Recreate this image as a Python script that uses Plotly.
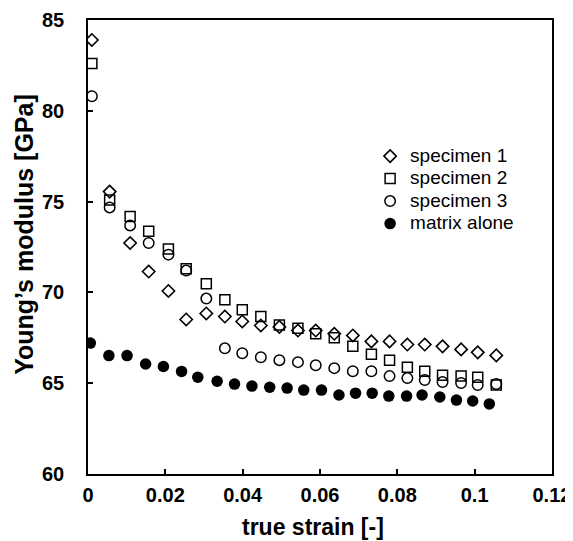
import plotly.graph_objects as go

# ---- data ----
strain_spec = [0.0010, 0.0056, 0.0109, 0.0157, 0.0208, 0.0254, 0.0306, 0.0354, 0.0399, 0.0447,
               0.0495, 0.0543, 0.0589, 0.0637, 0.0685, 0.0733, 0.0780, 0.0826, 0.0871, 0.0917,
               0.0965, 0.1008, 0.1056]
specimen1 = [83.9, 75.55, 72.72, 71.15, 70.08, 68.51, 68.84, 68.67, 68.40, 68.18,
             68.10, 67.90, 67.90, 67.72, 67.63, 67.30, 67.30, 67.13, 67.13, 67.03,
             66.86, 66.70, 66.53]
specimen2 = [82.6, 75.09, 74.18, 73.37, 72.39, 71.30, 70.48, 69.60, 69.05, 68.67,
             68.20, 68.02, 67.72, 67.50, 67.03, 66.59, 66.26, 65.88, 65.66, 65.44,
             65.39, 65.33, 64.90]
specimen3 = [80.8, 74.68, 73.69, 72.72, 72.08, 71.20, 69.66, 66.92, 66.65, 66.43,
             66.27, 66.16, 65.99, 65.83, 65.66, 65.66, 65.39, 65.28, 65.17, 65.06,
             65.01, 64.90, 64.95]

strain_matrix = [0.0006, 0.0054, 0.0101, 0.0149, 0.0195, 0.0242, 0.0284, 0.0334, 0.0379, 0.0424,
                 0.0470, 0.0515, 0.0558, 0.0604, 0.0649, 0.0692, 0.0735, 0.0778, 0.0824, 0.0864,
                 0.0910, 0.0953, 0.0995, 0.1038]
matrix_alone = [67.21, 66.52, 66.52, 66.06, 65.92, 65.65, 65.33, 65.11, 64.95, 64.84,
                64.78, 64.73, 64.62, 64.62, 64.35, 64.45, 64.45, 64.29, 64.29, 64.35,
                64.24, 64.07, 64.02, 63.86]

series_names = ["specimen 1", "specimen 2", "specimen 3", "matrix alone"]
x_ticks = [0, 0.02, 0.04, 0.06, 0.08, 0.1, 0.12]
x_tick_text = ["0", "0.02", "0.04", "0.06", "0.08", "0.1", "0.12"]
y_ticks = [60, 65, 70, 75, 80, 85]
x_title = "true strain [-]"
y_title = "Young’s modulus [GPa]"

FONT = "Liberation Sans, Arial, Helvetica, sans-serif"
LEG_TXT = '<span style="font-size:19px">{}</span>'

fig = go.Figure()
fig.add_trace(go.Scatter(x=strain_spec, y=specimen1, mode="markers", name=LEG_TXT.format(series_names[0]),
                         marker=dict(symbol="diamond-open", size=9.5, color="black",
                                     line=dict(width=1.6, color="black"))))
fig.add_trace(go.Scatter(x=strain_spec, y=specimen2, mode="markers", name=LEG_TXT.format(series_names[1]),
                         marker=dict(symbol="square-open", size=10, color="black",
                                     line=dict(width=1.5, color="black"))))
fig.add_trace(go.Scatter(x=strain_spec, y=specimen3, mode="markers", name=LEG_TXT.format(series_names[2]),
                         marker=dict(symbol="circle-open", size=10.5, color="black",
                                     line=dict(width=1.5, color="black"))))
fig.add_trace(go.Scatter(x=strain_matrix, y=matrix_alone, mode="markers", name=LEG_TXT.format(series_names[3]),
                         marker=dict(symbol="circle", size=11.5, color="black",
                                     line=dict(width=0))))

axis_common = dict(
    showgrid=False, zeroline=False, showline=True, linecolor="black", linewidth=1.5,
    mirror=True, ticks="inside", ticklen=5, tickwidth=1.5, tickcolor="black",
    tickfont=dict(family=FONT, size=20, color="black", weight="bold"),
    automargin=False, ticklabeloverflow="allow",
)

fig.update_xaxes(range=[0, 0.12001], tickvals=x_ticks, ticktext=x_tick_text,
                 ticklabelstandoff=2, **axis_common)
fig.update_yaxes(range=[60, 85], tickvals=y_ticks,
                 ticklabelstandoff=18, **axis_common)

fig.add_annotation(text=x_title, xref="paper", yref="paper", x=0.485, y=-0.1167,
                   xanchor="center", yanchor="middle", showarrow=False,
                   font=dict(family=FONT, size=23, color="black", weight="bold"))
fig.add_annotation(text=y_title, xref="paper", yref="paper", x=-0.138, y=0.529,
                   xanchor="center", yanchor="middle", textangle=-90, showarrow=False,
                   font=dict(family=FONT, size=25, color="black", weight="bold"))

fig.update_layout(
    width=573, height=541,
    margin=dict(l=80, r=29, t=12, b=75),
    plot_bgcolor="white", paper_bgcolor="white",
    font=dict(family=FONT, color="black"),
    legend=dict(x=0.608, y=0.736, xanchor="left", yanchor="top",
                font=dict(family=FONT, size=15, color="black"),
                bgcolor="rgba(0,0,0,0)", itemwidth=30),
)

fig.write_html("out.html")
